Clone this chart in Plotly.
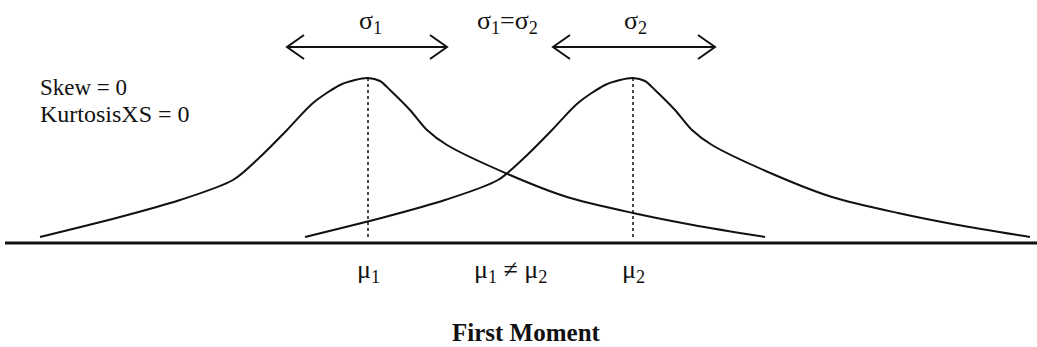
import plotly.graph_objects as go

# shape of each curve: x offset from its mean, height above the baseline
profile_dx = [-328, -248, -188, -135, -108, -81, -55, -28, -13, 0, 12, 22, 42, 59, 79, 142, 199, 265, 325, 397]
profile_h = [6, 26, 43, 63, 86, 113, 140, 158, 163, 165, 162, 153, 133, 113, 98, 68, 46, 30, 18, 6]

means = [368, 633]
sub = '<sub style="font-size:19px">{}</sub>'
mean_labels = ["\u03bc" + sub.format(1), "\u03bc" + sub.format(2)]
sigma_labels = ["\u03c3" + sub.format(1), "\u03c3" + sub.format(2)]
sigma_spans = [(287, 447), (553, 715)]
peak_h = max(profile_h)

INK = "#111111"
SERIF = "Liberation Serif, Times New Roman, serif"

fig = go.Figure()

# baseline
fig.add_trace(go.Scatter(x=[5, 1037], y=[0, 0], mode="lines",
                         line=dict(color=INK, width=3), hoverinfo="skip"))

for mu in means:
    fig.add_trace(go.Scatter(
        x=[mu + d for d in profile_dx], y=profile_h, mode="lines",
        line=dict(color=INK, width=2, shape="spline", smoothing=0.8),
        hoverinfo="skip"))
    # dotted line at the mean
    fig.add_trace(go.Scatter(x=[mu, mu], y=[peak_h, 4], mode="lines",
                             line=dict(color=INK, width=1.5, dash="dot"),
                             hoverinfo="skip"))

# double-headed sigma arrows
arrow_y = 196
head_w, head_h = 17, 12
for (x0, x1) in sigma_spans:
    xs = [x0 + head_w, x0, x0 + head_w, None, x0, x1, None,
          x1 - head_w, x1, x1 - head_w]
    ys = [arrow_y + head_h, arrow_y, arrow_y - head_h, None, arrow_y, arrow_y, None,
          arrow_y + head_h, arrow_y, arrow_y - head_h]
    fig.add_trace(go.Scatter(x=xs, y=ys, mode="lines",
                             line=dict(color=INK, width=2), hoverinfo="skip"))

def label(text, x, y, size=26, xanchor="center", bold=False):
    fig.add_annotation(x=x, y=y, xref="x", yref="y", text=f"<b>{text}</b>" if bold else text,
                       showarrow=False, xanchor=xanchor, yanchor="middle",
                       font=dict(family=SERIF, size=size, color=INK))

for mu, lab, sig in zip(means, mean_labels, sigma_labels):
    label(lab, mu, -28)
    label(sig, mu + 2, 221)

label(sigma_labels[0] + "=" + sigma_labels[1], 507, 221)
label(mean_labels[0] + " \u2260 " + mean_labels[1], 510, -28)
label("Skew = 0", 38, 156, size=23, xanchor="left")
label("KurtosisXS = 0", 38, 129, size=24, xanchor="left")
label("First Moment", 526, -89, size=25, bold=True)

fig.update_layout(
    width=1037, height=347,
    margin=dict(l=0, r=0, t=0, b=0),
    paper_bgcolor="white", plot_bgcolor="white",
    showlegend=False,
    xaxis=dict(range=[0, 1037], visible=False, fixedrange=True),
    yaxis=dict(range=[-104, 243], visible=False, fixedrange=True),
)

fig.write_html("out.html", config={"displayModeBar": False},
               post_script="document.body.style.margin='0';")
